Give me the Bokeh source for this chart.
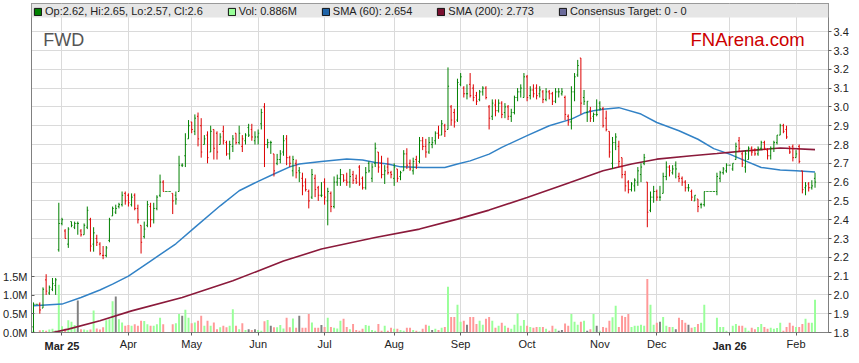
from bokeh.plotting import figure
from bokeh.models import (Range1d, LinearAxis, FixedTicker, PrintfTickFormatter,
                          ColumnDataSource, Legend, LegendItem, Label, BoxAnnotation)
from bokeh.embed import file_html
from bokeh.resources import INLINE

# ---------------- data ----------------
opens = [
    1.83, 1.95, 1.95, 1.93, 2.08, 2.01, 2.03, 2.05, 2.24, 2.38,
    2.34, 2.27, 2.39, 2.36, 2.38, 2.34, 2.32, 2.36, 2.40, 2.27,
    2.30, 2.27, 2.21, 2.21, 2.29, 2.42, 2.44, 2.47, 2.48, 2.54,
    2.53, 2.48, 2.53, 2.46, 2.37, 2.31, 2.37, 2.47, 2.40, 2.46,
    2.53, 2.60, 2.55, 2.55, 2.54, 2.53, 2.55, 2.69, 2.74, 2.83,
    2.92, 2.87, 2.95, 2.90, 2.80, 2.85, 2.76, 2.88, 2.86, 2.80,
    2.87, 2.81, 2.75, 2.79, 2.86, 2.81, 2.79, 2.82, 2.89, 2.88,
    2.82, 2.84, 2.91, 3.00, 2.80, 2.81, 2.75, 2.70, 2.72, 2.76,
    2.83, 2.73, 2.66, 2.70, 2.66, 2.62, 2.60, 2.55, 2.52, 2.62,
    2.57, 2.53, 2.60, 2.50, 2.54, 2.47, 2.60, 2.62, 2.64, 2.61,
    2.60, 2.64, 2.62, 2.68, 2.62, 2.57, 2.70, 2.62, 2.70, 2.76,
    2.70, 2.64, 2.68, 2.65, 2.62, 2.67, 2.63, 2.66, 2.75, 2.70,
    2.66, 2.72, 2.71, 2.82, 2.79, 2.76, 2.80, 2.82, 2.86, 2.85,
    2.90, 2.88, 3.00, 2.97, 2.93, 3.12, 3.10, 3.07, 3.12, 3.10,
    3.06, 3.04, 3.08, 3.10, 3.00, 2.95, 3.01, 2.98, 3.02, 2.97,
    3.00, 2.95, 2.97, 3.05, 3.08, 3.05, 3.16, 3.06, 3.09, 3.10,
    3.07, 3.08, 3.04, 3.08, 3.07, 3.03, 3.08, 3.07, 3.05, 2.95,
    2.92, 3.08, 3.17, 3.26, 3.05, 2.97, 2.98, 2.95, 2.96, 3.02,
    2.99, 2.94, 2.87, 2.70, 2.81, 2.79, 2.73, 2.64, 2.60, 2.56,
    2.58, 2.60, 2.64, 2.70, 2.60, 2.45, 2.52, 2.55, 2.52, 2.54,
    2.63, 2.68, 2.65, 2.69, 2.63, 2.62, 2.60, 2.57, 2.55, 2.50,
    2.51, 2.48, 2.48, 2.55, 2.55, 2.55, 2.55, 2.62, 2.65, 2.66,
    2.69, 2.67, 2.72, 2.82, 2.75, 2.68, 2.72, 2.78, 2.77, 2.75,
    2.78, 2.81, 2.77, 2.74, 2.78, 2.81, 2.85, 2.90, 2.88, 2.79,
    2.79, 2.73, 2.79, 2.66, 2.57, 2.59, 2.57, 2.62,
]
highs = [
    1.96, 1.95, 1.96, 2.04, 2.11, 2.05, 2.09, 2.09, 2.49, 2.41,
    2.35, 2.36, 2.39, 2.39, 2.39, 2.35, 2.38, 2.47, 2.41, 2.36,
    2.32, 2.28, 2.26, 2.26, 2.41, 2.47, 2.48, 2.49, 2.55, 2.55,
    2.54, 2.54, 2.54, 2.48, 2.37, 2.39, 2.50, 2.49, 2.49, 2.53,
    2.64, 2.61, 2.55, 2.55, 2.54, 2.55, 2.74, 2.70, 2.86, 2.93,
    2.92, 2.96, 2.97, 2.94, 2.85, 2.87, 2.90, 2.88, 2.87, 2.86,
    2.90, 2.82, 2.82, 2.85, 2.86, 2.90, 2.85, 2.86, 2.91, 2.91,
    2.87, 2.88, 2.99, 3.02, 2.83, 2.82, 2.75, 2.75, 2.77, 2.85,
    2.85, 2.74, 2.74, 2.72, 2.68, 2.65, 2.62, 2.56, 2.67, 2.64,
    2.58, 2.60, 2.62, 2.57, 2.55, 2.63, 2.64, 2.67, 2.64, 2.65,
    2.67, 2.66, 2.64, 2.69, 2.63, 2.68, 2.71, 2.70, 2.81, 2.76,
    2.74, 2.69, 2.73, 2.66, 2.70, 2.67, 2.66, 2.77, 2.78, 2.72,
    2.73, 2.74, 2.84, 2.84, 2.83, 2.84, 2.84, 2.87, 2.90, 2.93,
    2.91, 3.21, 3.01, 2.99, 3.15, 3.18, 3.11, 3.12, 3.18, 3.12,
    3.08, 3.09, 3.11, 3.11, 3.01, 3.04, 3.04, 3.04, 3.03, 3.02,
    3.01, 2.99, 3.06, 3.10, 3.12, 3.18, 3.17, 3.11, 3.12, 3.12,
    3.11, 3.09, 3.10, 3.09, 3.08, 3.10, 3.10, 3.10, 3.06, 2.96,
    3.11, 3.18, 3.25, 3.26, 3.09, 3.03, 3.00, 2.97, 3.04, 3.03,
    3.00, 2.98, 2.87, 2.84, 2.86, 2.82, 2.73, 2.66, 2.61, 2.60,
    2.62, 2.68, 2.70, 2.75, 2.60, 2.55, 2.58, 2.56, 2.58, 2.65,
    2.71, 2.69, 2.69, 2.71, 2.65, 2.63, 2.61, 2.59, 2.56, 2.53,
    2.51, 2.49, 2.55, 2.55, 2.55, 2.55, 2.65, 2.66, 2.68, 2.70,
    2.69, 2.70, 2.81, 2.84, 2.76, 2.77, 2.79, 2.79, 2.78, 2.79,
    2.82, 2.82, 2.78, 2.79, 2.82, 2.85, 2.91, 2.91, 2.90, 2.79,
    2.80, 2.77, 2.80, 2.66, 2.60, 2.60, 2.61, 2.65,
]
lows = [
    1.80, 1.95, 1.90, 1.93, 2.00, 2.00, 2.02, 2.00, 2.23, 2.37,
    2.30, 2.25, 2.36, 2.35, 2.32, 2.31, 2.32, 2.35, 2.23, 2.23,
    2.26, 2.21, 2.19, 2.20, 2.28, 2.42, 2.43, 2.46, 2.47, 2.48,
    2.47, 2.47, 2.45, 2.38, 2.22, 2.30, 2.36, 2.36, 2.38, 2.45,
    2.52, 2.55, 2.55, 2.55, 2.43, 2.48, 2.55, 2.68, 2.68, 2.83,
    2.86, 2.85, 2.79, 2.73, 2.80, 2.70, 2.76, 2.72, 2.72, 2.80,
    2.80, 2.74, 2.72, 2.76, 2.80, 2.80, 2.76, 2.80, 2.84, 2.82,
    2.80, 2.80, 2.88, 2.68, 2.78, 2.75, 2.63, 2.69, 2.70, 2.74,
    2.69, 2.68, 2.63, 2.62, 2.60, 2.53, 2.55, 2.46, 2.51, 2.52,
    2.50, 2.52, 2.48, 2.37, 2.44, 2.46, 2.58, 2.58, 2.60, 2.58,
    2.57, 2.59, 2.59, 2.58, 2.56, 2.56, 2.65, 2.60, 2.68, 2.65,
    2.62, 2.59, 2.64, 2.62, 2.58, 2.60, 2.61, 2.66, 2.67, 2.66,
    2.64, 2.67, 2.70, 2.77, 2.73, 2.75, 2.78, 2.80, 2.83, 2.85,
    2.84, 2.88, 2.90, 2.89, 2.92, 3.11, 3.05, 3.04, 3.05, 3.03,
    3.01, 3.03, 3.06, 3.04, 2.88, 2.93, 2.95, 2.97, 2.94, 2.94,
    2.93, 2.92, 2.96, 3.03, 3.05, 3.05, 3.03, 3.04, 3.05, 3.04,
    3.05, 3.02, 3.03, 3.04, 3.01, 3.02, 3.05, 3.06, 2.93, 2.90,
    2.88, 3.03, 3.16, 2.96, 3.01, 2.92, 2.92, 2.92, 2.95, 2.98,
    2.89, 2.87, 2.73, 2.67, 2.77, 2.68, 2.62, 2.55, 2.54, 2.55,
    2.55, 2.58, 2.60, 2.69, 2.36, 2.44, 2.49, 2.50, 2.50, 2.54,
    2.61, 2.63, 2.64, 2.62, 2.60, 2.58, 2.55, 2.55, 2.50, 2.50,
    2.44, 2.46, 2.47, 2.55, 2.55, 2.55, 2.53, 2.60, 2.64, 2.65,
    2.69, 2.66, 2.72, 2.76, 2.68, 2.65, 2.72, 2.74, 2.74, 2.74,
    2.77, 2.77, 2.72, 2.72, 2.76, 2.80, 2.85, 2.86, 2.83, 2.75,
    2.71, 2.73, 2.70, 2.54, 2.53, 2.55, 2.56, 2.57,
]
closes = [
    1.95, 1.95, 1.92, 2.03, 2.02, 2.04, 2.06, 2.08, 2.38, 2.40,
    2.30, 2.35, 2.37, 2.38, 2.38, 2.32, 2.37, 2.45, 2.26, 2.33,
    2.28, 2.22, 2.21, 2.25, 2.40, 2.46, 2.46, 2.48, 2.53, 2.50,
    2.49, 2.52, 2.46, 2.40, 2.28, 2.35, 2.48, 2.40, 2.46, 2.52,
    2.60, 2.55, 2.55, 2.55, 2.50, 2.51, 2.69, 2.69, 2.80, 2.90,
    2.88, 2.94, 2.83, 2.76, 2.83, 2.73, 2.87, 2.78, 2.76, 2.84,
    2.82, 2.75, 2.80, 2.83, 2.81, 2.86, 2.83, 2.85, 2.85, 2.84,
    2.84, 2.86, 2.97, 2.80, 2.81, 2.81, 2.66, 2.72, 2.75, 2.82,
    2.73, 2.70, 2.72, 2.65, 2.65, 2.58, 2.56, 2.50, 2.64, 2.56,
    2.53, 2.53, 2.52, 2.55, 2.47, 2.60, 2.62, 2.64, 2.61, 2.60,
    2.63, 2.61, 2.60, 2.59, 2.57, 2.65, 2.66, 2.68, 2.78, 2.68,
    2.64, 2.66, 2.65, 2.64, 2.68, 2.62, 2.65, 2.75, 2.69, 2.67,
    2.71, 2.69, 2.82, 2.79, 2.76, 2.81, 2.81, 2.86, 2.85, 2.91,
    2.87, 3.11, 2.93, 2.92, 3.13, 3.16, 3.07, 3.07, 3.06, 3.05,
    3.03, 3.08, 3.10, 3.05, 2.94, 3.02, 2.98, 3.02, 2.96, 3.00,
    2.95, 2.97, 3.05, 3.08, 3.10, 3.16, 3.05, 3.09, 3.07, 3.06,
    3.09, 3.04, 3.08, 3.07, 3.03, 3.08, 3.08, 3.08, 2.96, 2.92,
    3.08, 3.16, 3.22, 3.02, 3.03, 3.03, 2.94, 2.96, 2.96, 2.99,
    2.90, 2.88, 2.76, 2.81, 2.84, 2.71, 2.64, 2.58, 2.56, 2.59,
    2.61, 2.66, 2.68, 2.73, 2.44, 2.52, 2.55, 2.52, 2.52, 2.63,
    2.68, 2.66, 2.67, 2.67, 2.62, 2.60, 2.57, 2.57, 2.52, 2.53,
    2.47, 2.48, 2.55, 2.55, 2.55, 2.55, 2.63, 2.65, 2.67, 2.69,
    2.69, 2.70, 2.79, 2.78, 2.70, 2.75, 2.78, 2.76, 2.75, 2.78,
    2.81, 2.78, 2.74, 2.78, 2.81, 2.85, 2.90, 2.87, 2.84, 2.76,
    2.73, 2.75, 2.71, 2.56, 2.58, 2.57, 2.58, 2.60,
]
volumes_m = [
    0.05, 0.00, 0.06, 0.07, 0.05, 0.08, 0.10, 0.06, 1.29, 0.17,
    0.10, 0.33, 0.29, 0.20, 0.86, 0.09, 0.08, 0.06, 0.08, 0.59,
    0.11, 0.08, 0.14, 0.33, 0.36, 0.84, 0.97, 0.36, 0.27, 0.18,
    0.20, 0.18, 0.22, 0.18, 0.32, 0.31, 0.22, 0.18, 0.18, 0.22,
    0.40, 0.22, 0.00, 0.00, 0.22, 0.25, 0.50, 0.45, 0.61, 0.40,
    0.25, 0.27, 0.32, 0.45, 0.18, 0.32, 0.18, 0.27, 0.09, 0.14,
    0.18, 0.14, 0.18, 0.63, 0.18, 0.09, 0.25, 0.07, 0.09, 0.07,
    0.09, 0.07, 0.05, 0.30, 0.34, 0.18, 0.14, 0.14, 0.20, 0.11,
    0.40, 0.14, 0.38, 0.13, 0.45, 0.13, 0.13, 0.50, 0.27, 0.13,
    0.13, 0.20, 0.15, 0.40, 0.15, 0.13, 0.11, 0.32, 0.37, 0.15,
    0.09, 0.23, 0.07, 0.05, 0.10, 0.20, 0.18, 0.07, 0.05, 0.23,
    0.05, 0.18, 0.05, 0.13, 0.10, 0.10, 0.07, 0.05, 0.13, 0.13,
    0.07, 0.05, 0.03, 0.10, 0.21, 0.18, 0.07, 0.10, 0.07, 0.13,
    0.15, 1.23, 0.42, 0.42, 0.75, 0.29, 0.32, 0.21, 0.42, 0.42,
    0.23, 0.32, 0.21, 0.37, 0.42, 0.32, 0.13, 0.18, 0.26, 0.18,
    0.13, 0.10, 0.21, 0.51, 0.18, 0.34, 0.18, 0.15, 0.13, 0.15,
    0.15, 0.15, 0.10, 0.05, 0.18, 0.10, 0.05, 0.07, 0.24, 0.18,
    0.50, 0.29, 0.21, 0.29, 0.32, 0.05, 0.09, 0.50, 0.18, 0.05,
    0.15, 0.13, 0.32, 0.41, 0.72, 0.15, 0.45, 0.42, 0.50, 0.15,
    0.18, 0.18, 0.21, 0.18, 1.44, 0.75, 0.21, 0.26, 0.29, 0.42,
    0.18, 0.15, 0.15, 0.09, 0.40, 0.34, 0.26, 0.21, 0.13, 0.15,
    0.23, 0.26, 0.75, 0.00, 0.00, 0.00, 0.40, 0.15, 0.15, 0.05,
    0.00, 0.18, 0.23, 0.18, 0.18, 0.13, 0.05, 0.13, 0.09, 0.15,
    0.23, 0.15, 0.10, 0.13, 0.10, 0.12, 0.26, 0.05, 0.15, 0.26,
    0.18, 0.15, 0.15, 0.23, 0.37, 0.26, 0.26, 0.886,
]
sma60_idx = [0, 9, 15, 21, 25, 30, 37, 45, 51, 59, 65, 71, 76, 81, 84, 91, 99, 104, 108, 112,
             116, 123, 130, 134, 138, 144, 148, 156, 163, 170, 174, 177, 180, 185, 192, 197, 204,
             210, 215, 220, 225, 230, 236, 241, 247]
sma60_val = [1.942, 1.951, 1.986, 2.026, 2.057, 2.100, 2.180, 2.272, 2.359, 2.474, 2.554, 2.604,
             2.643, 2.681, 2.696, 2.710, 2.723, 2.717, 2.704, 2.696, 2.681, 2.678, 2.678, 2.696,
             2.713, 2.749, 2.785, 2.847, 2.900, 2.935, 2.967, 2.979, 2.988, 2.996, 2.962, 2.917,
             2.873, 2.828, 2.778, 2.749, 2.713, 2.678, 2.664, 2.660, 2.654]
sma200_idx = [0, 11, 21, 31, 47, 63, 79, 91, 108, 122, 134, 144, 156, 168, 180, 189, 197, 208,
              216, 225, 236, 247]
sma200_val = [1.777, 1.818, 1.862, 1.915, 1.986, 2.075, 2.180, 2.244, 2.305, 2.350, 2.403, 2.451,
              2.518, 2.589, 2.660, 2.696, 2.722, 2.740, 2.752, 2.766, 2.781, 2.773]
month_idx = [9, 30, 50, 71, 92, 114, 135, 156, 179, 197, 220, 241]
month_lbl = ["Mar 25", "Apr", "May", "Jun", "Jul", "Aug", "Sep", "Oct", "Nov", "Dec", "Jan 26", "Feb"]
year_lbl = ["Mar 25", "Jan 26"]
price_ticks = [1.8, 1.9, 2.0, 2.1, 2.2, 2.3, 2.4, 2.5, 2.6, 2.7, 2.8, 2.9, 3.0, 3.1, 3.2, 3.3, 3.4]
vol_ticks = [0.0, 0.5, 1.0, 1.5]
legend_texts = ["Op:2.62, Hi:2.65, Lo:2.57, Cl:2.6", "Vol: 0.886M", "SMA (60): 2.654",
                "SMA (200): 2.773", "Consensus Target: 0 - 0"]
symbol = "FWD"
brand = "FNArena.com"

# ---------------- layout / styles ----------------
W, H = 851, 355
B_L, B_R, B_T, B_B = 29, 21, 3, 23
FRAME_W = W - B_L - B_R
FRAME_H = H - B_T - B_B
PX_PER_PRICE = 188.0
PX_PER_MVOL = 37.1
FONT = "Liberation Sans"
GREEN, RED = "#008000", "#dd0000"
VGREEN, VRED, VGRAY = "#99ff99", "#ff9999", "#808080"
BLUE, MAROON, SLATE = "#3282c6", "#8b1a3b", "#6b6b9b"
NAN = float("nan")

n = min(len(opens), len(highs), len(lows), len(closes), len(volumes_m))
x_lo, x_hi = -0.63, 251.26
y_lo = price_ticks[0]
y_hi = y_lo + FRAME_H / PX_PER_PRICE
vol_hi = FRAME_H / PX_PER_MVOL


def dx(px):
    return x_lo + px * (x_hi - x_lo) / FRAME_W


def dy(px_from_top):
    return y_hi - px_from_top / PX_PER_PRICE


xs = list(range(n))
pcol, vcol = [], []
for i in range(n):
    ref = closes[i - 1] if i > 0 else opens[i]
    if closes[i] > ref:
        pcol.append(GREEN); vcol.append(VGREEN)
    elif closes[i] < ref:
        pcol.append(RED); vcol.append(VRED)
    else:
        pcol.append(GREEN); vcol.append(VGRAY)

src = ColumnDataSource(dict(
    x=xs, xl=[v - 0.34 for v in xs], xr=[v + 0.34 for v in xs],
    o=opens[:n], h=highs[:n], l=lows[:n], c=closes[:n],
    vol=volumes_m[:n], pc=pcol, vc=vcol,
))

p = figure(width=W, height=H, output_backend="svg", toolbar_location=None,
           x_range=Range1d(x_lo, x_hi), y_range=Range1d(y_lo, y_hi),
           min_border_left=B_L, min_border_right=B_R, min_border_top=B_T,
           min_border_bottom=B_B, y_axis_location="right")
p.background_fill_color = "white"
p.border_fill_color = "white"
p.outline_line_color = "#808080"

# main (price) axis on the right
pax = p.right[0]
pax.ticker = FixedTicker(ticks=price_ticks)
pax.formatter = PrintfTickFormatter(format="%.1f")
# x axis (regular month labels)
xax = p.below[0]
xax.ticker = FixedTicker(ticks=month_idx)
xax.major_label_overrides = {m: ("" if l in year_lbl else l) for m, l in zip(month_idx, month_lbl)}
# second x axis carrying the bold year-start labels, pulled up onto the first one
yr_idx = [m for m, l in zip(month_idx, month_lbl) if l in year_lbl]
xax2 = LinearAxis(ticker=FixedTicker(ticks=yr_idx),
                  major_label_overrides={m: l for m, l in zip(month_idx, month_lbl) if l in year_lbl})
p.add_layout(xax2, "below")

# volume axis on the left
p.extra_y_ranges = {"vol": Range1d(0, vol_hi)}
vax = LinearAxis(y_range_name="vol", ticker=FixedTicker(ticks=vol_ticks),
                 formatter=PrintfTickFormatter(format="%.1fM"))
p.add_layout(vax, "left")

for ax in (pax, xax, xax2, vax):
    ax.axis_line_color = "#808080"
    ax.major_tick_line_color = "#606060"
    ax.minor_tick_line_color = None
    ax.major_label_text_font = FONT
    ax.major_label_text_font_size = "11px"
    ax.major_label_text_color = "#222222"
    ax.major_label_standoff = 2
pax.major_tick_out, pax.major_tick_in = 3, 0
xax.major_tick_out, xax.major_tick_in = 3, 0
vax.major_tick_out, vax.major_tick_in = 0, 3
vax.major_label_standoff = 4
xax2.axis_line_color = None
xax2.major_tick_line_color = None
xax2.major_tick_out, xax2.major_tick_in = 0, 0
xax2.major_label_text_font_style = "bold"
xax2.major_label_standoff = -13

p.xgrid.grid_line_color = "#dadada"
p.ygrid.grid_line_color = "#dadada"

# volume
p.vbar(x="x", top="vol", width=0.62, bottom=0, fill_color="vc", line_color=None,
       y_range_name="vol", source=src)
# moving averages
p.line(sma60_idx, sma60_val, line_color=BLUE, line_width=1.5)
p.line(sma200_idx, sma200_val, line_color=MAROON, line_width=1.6)
# OHLC bars
p.segment(x0="x", y0="l", x1="x", y1="h", line_color="pc", line_width=1, source=src)
p.segment(x0="xl", y0="o", x1="x", y1="o", line_color="pc", line_width=1, source=src)
p.segment(x0="x", y0="c", x1="xr", y1="c", line_color="pc", line_width=1, source=src)

# top info band
band = BoxAnnotation(bottom=dy(14), top=y_hi, fill_color="#e6e6e6", fill_alpha=1.0,
                     line_color=None)
p.add_layout(band)

sq_colors = [GREEN, VGREEN, "#1f64a8", "#7a1030", SLATE]
items = []
for txt, col in zip(legend_texts, sq_colors):
    r = p.quad(left=[NAN], right=[NAN], top=[NAN], bottom=[NAN], fill_color=col,
               line_color="#111111", line_width=1)
    items.append(LegendItem(label=txt, renderers=[r]))
leg = Legend(items=items, location="top_left", orientation="horizontal", margin=2, padding=2,
             spacing=24, glyph_width=9, glyph_height=9, label_standoff=3, label_height=9,
             label_text_font=FONT, label_text_font_size="11px", label_text_color="#222222",
             label_text_baseline="alphabetic",
             background_fill_alpha=0.0, border_line_color=None)
p.add_layout(leg)

# symbol and brand
p.add_layout(Label(x=dx(11.7), y=dy(36), text=symbol, text_font=FONT, text_font_size="18px",
                   text_color="#555555", text_baseline="alphabetic"))
p.add_layout(Label(x=dx(662.3), y=dy(36.3), text=brand, text_font=FONT, text_font_size="18.5px",
                   text_color="#cc0000", text_baseline="alphabetic"))

open("out.html", "w").write(file_html(p, INLINE))
